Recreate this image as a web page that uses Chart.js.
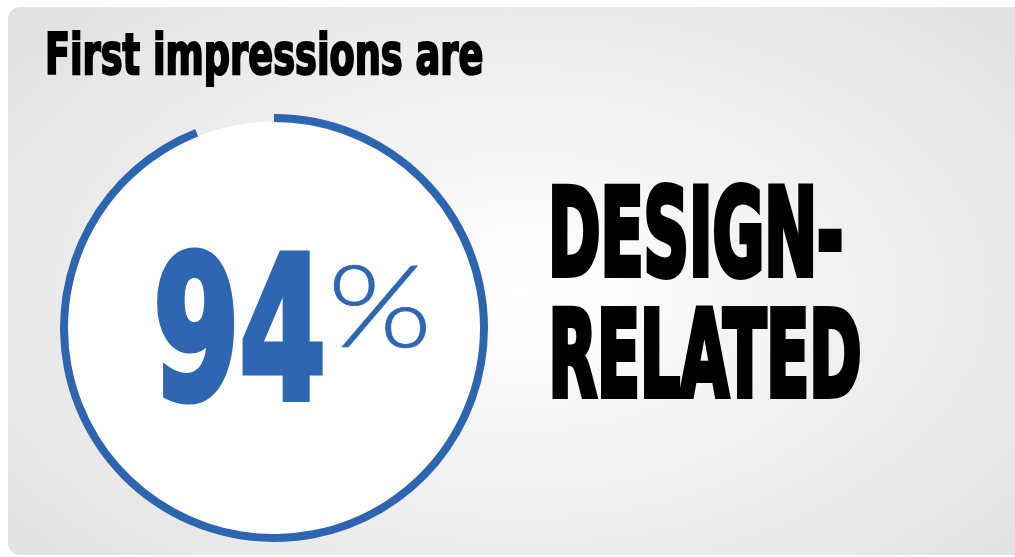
<!DOCTYPE html>
<html>
<head>
<meta charset="utf-8">
<script src="https://cdn.jsdelivr.net/npm/chart.js@4.4.1/dist/chart.umd.min.js"></script>
<style>
  html, body { margin: 0; padding: 0; background: #ffffff; width: 1015px; height: 557px; overflow: hidden; }
  #card {
    position: absolute; left: 8px; top: 7px; width: 1030px; height: 548px;
    border-radius: 12px;
    background: radial-gradient(ellipse 62% 70% at 50% 52%, #ffffff 0%, #fafafa 18%, #f2f2f2 45%, #eaeaea 75%, #e2e2e2 100%);
  }
  #wrap { position: absolute; left: 60px; top: 114px; width: 428px; height: 428px; }
  #txt { position: absolute; left: 0; top: 0; width: 1015px; height: 557px; pointer-events: none; }
  #txt text { paint-order: stroke fill; stroke-linejoin: miter; }
</style>
</head>
<body>
<div id="card"></div>
<div id="wrap"><canvas id="c" width="428" height="428"></canvas></div>
<svg id="txt" width="1015" height="557" xmlns="http://www.w3.org/2000/svg">
  <text id="t1" fill="#000" stroke="#000">First impressions are</text>
  <text id="t2" fill="#2f66b2" stroke="#2f66b2">94</text>
  <text id="t3" fill="#2f66b2" stroke="#2f66b2">%</text>
  <text id="t4" fill="#000" stroke="#000">DESIGN-</text>
  <text id="t5" fill="#000" stroke="#000">RELATED</text>
</svg>
<script>
// ---- data ----
const categories = ['Design-related', 'Other'];
const shareValues = [94, 6];
const titleText = 'First impressions are';
const valueText = '94';
const unitText = '%';
const labelLines = ['DESIGN-', 'RELATED'];

// ---- chart ----
const innerDisk = {
  id: 'innerDisk',
  beforeDatasetsDraw(chart) {
    const arc = chart.getDatasetMeta(0).data[0];
    if (!arc) return;
    const ctx = chart.ctx;
    ctx.save();
    ctx.beginPath();
    ctx.arc(arc.x, arc.y, arc.innerRadius + 0.5, 0, Math.PI * 2);
    ctx.fillStyle = '#ffffff';
    ctx.fill();
    ctx.restore();
  }
};

new Chart(document.getElementById('c'), {
  type: 'doughnut',
  data: {
    labels: categories,
    datasets: [{
      data: shareValues,
      backgroundColor: ['#2e65b1', 'rgba(0,0,0,0)'],
      borderWidth: 0
    }]
  },
  options: {
    responsive: false,
    animation: false,
    cutout: 206,
    rotation: 0,
    layout: { padding: 0 },
    plugins: { legend: { display: false }, tooltip: { enabled: false } }
  },
  plugins: [innerDisk]
});

// ---- text placement (fit ink boxes) ----
const mctx = document.createElement('canvas').getContext('2d');
function fitText(id, text, family, weight, left, right, top, baseline, capRef, sw) {
  const el = document.getElementById(id);
  el.textContent = text;
  const h = sw / 2;
  left += h; right -= h; top += h; baseline -= h;
  mctx.font = `${weight} 100px ${family}`;
  const ref = mctx.measureText(capRef || text);
  const capH = ref.actualBoundingBoxAscent;
  const size = 100 * (baseline - top) / capH;
  mctx.font = `${weight} ${size}px ${family}`;
  const m = mctx.measureText(text);
  const inkW = m.actualBoundingBoxLeft + m.actualBoundingBoxRight;
  const sx = (right - left) / inkW;
  const x = left + m.actualBoundingBoxLeft * sx;
  el.setAttribute('font-family', family.replace(/"/g, "'"));
  el.setAttribute('font-weight', weight);
  el.setAttribute('font-size', size);
  el.setAttribute('stroke-width', sw / sx);
  el.setAttribute('transform', `translate(${x},${baseline}) scale(${sx},1)`);
}
const heavy = '"Liberation Sans Narrow", "DejaVu Sans Condensed", "Liberation Sans", sans-serif';
const light = 'Lato, "Open Sans", Roboto, sans-serif';
function layout() {
  fitText('t1', titleText, heavy, 'bold', 47, 483, 32, 75, 'F', 1.6);
  fitText('t2', valueText, heavy, 'bold', 157, 323, 247, 400, valueText, 5);
  fitText('t3', unitText, light, '300', 333, 427, 262, 347, unitText, 0.8);
  fitText('t4', labelLines[0], heavy, 'bold', 552, 842, 185, 277, 'D', 3.5);
  fitText('t5', labelLines[1], heavy, 'bold', 552, 860, 307, 398, 'R', 3.5);
}
layout();
if (document.fonts && document.fonts.ready) document.fonts.ready.then(layout);
</script>
</body>
</html>
